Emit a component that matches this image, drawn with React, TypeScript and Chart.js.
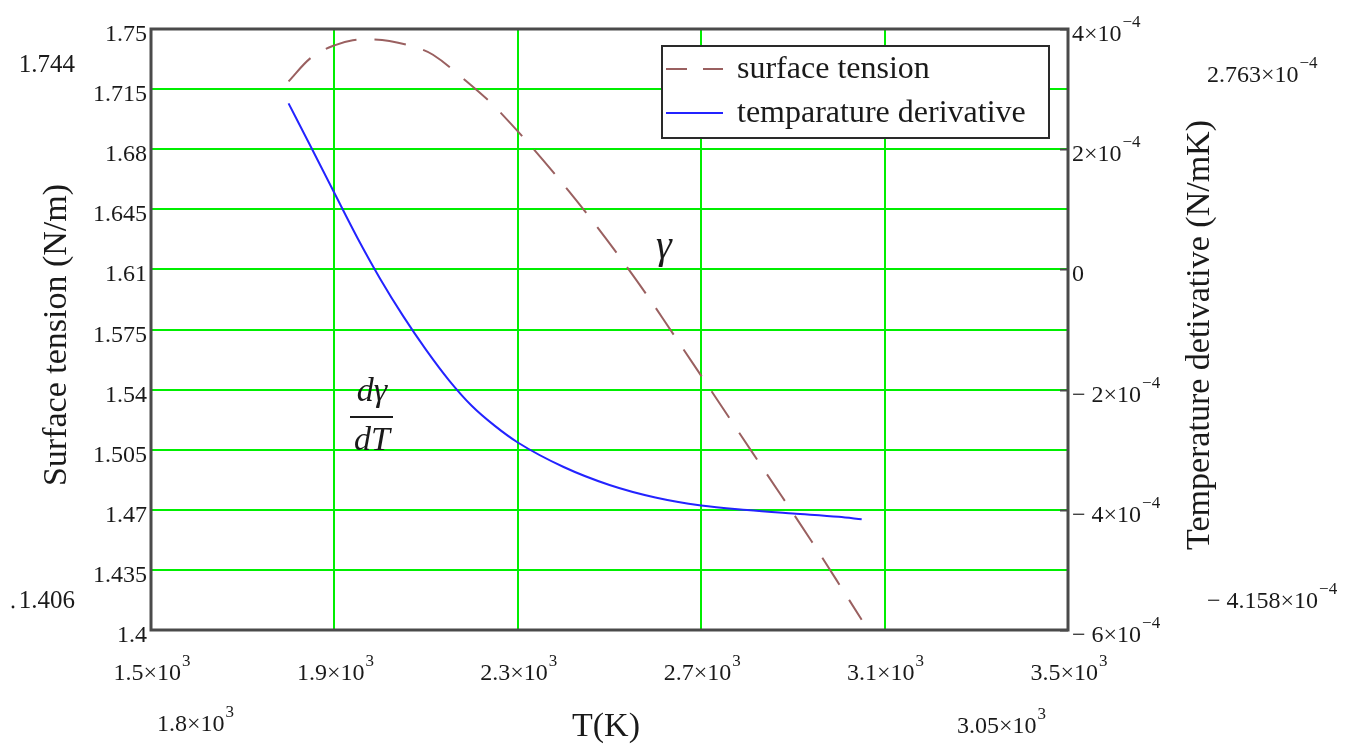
import React, { useEffect, useRef } from "react";
import { Chart, registerables } from "chart.js";

Chart.register(...registerables);

// Axis tick values
const temperatureTicks = [1500, 1900, 2300, 2700, 3100, 3500];
const tensionTicks = [1.4, 1.435, 1.47, 1.505, 1.54, 1.575, 1.61, 1.645, 1.68, 1.715, 1.75];
const derivativeTicks = [-6e-4, -4e-4, -2e-4, 0, 2e-4, 4e-4];

// Range of the computed curves
const T_MIN = 1800;
const T_MAX = 3050;
const GAMMA_MAX = 1.744;
const GAMMA_MIN = 1.406;
const DERIV_MAX = 2.763e-4;
const DERIV_MIN = -4.158e-4;

// Surface tension γ(T), N/m
const gammaTemps = [T_MIN, 1850, 1900, 1940, 1980, 2020, 2075, 2115, 2175, 2260, 2410, 2550, 2680, 2810, 2940, T_MAX];
const gammaValues = [1.7195, 1.7335, 1.7405, 1.7435, GAMMA_MAX, 1.743, 1.7395, 1.735, 1.7225, 1.702, 1.656, 1.607, 1.556, 1.504, 1.452, GAMMA_MIN];

// Temperature derivative dγ/dT, N/(m·K)
const derivTemps = [T_MIN, 1850, 1900, 1950, 2000, 2050, 2100, 2150, 2200, 2250, 2300, 2400, 2500, 2600, 2700, 2800, 2900, 3000, T_MAX];
const derivValues = [
  DERIV_MAX, 2.02e-4, 1.27e-4, 0.527e-4, -0.158e-4, -0.777e-4, -1.338e-4, -1.845e-4, -2.273e-4, -2.604e-4,
  -2.88e-4, -3.288e-4, -3.587e-4, -3.795e-4, -3.928e-4, -4.003e-4, -4.062e-4, -4.117e-4, DERIV_MIN,
];

const SERIF = '"Liberation Serif", "Times New Roman", serif';
const GRID = "rgb(0,238,0)";
const FRAME = "#4a4a4a";
const GAMMA_COLOR = "#9a6060";
const DERIV_COLOR = "rgb(35,35,255)";

const TICK_SIZE = 24;
const SUP_SIZE = 17;

function drawSci(
  ctx: CanvasRenderingContext2D,
  x: number,
  y: number,
  base: string,
  exp: string,
  align: "left" | "right" | "center",
  size = TICK_SIZE
) {
  ctx.font = `${size}px ${SERIF}`;
  const wb = ctx.measureText(base).width;
  ctx.font = `${SUP_SIZE}px ${SERIF}`;
  const we = exp ? ctx.measureText(exp).width + 1 : 0;
  const total = wb + we;
  const x0 = align === "left" ? x : align === "right" ? x - total : x - total / 2;
  ctx.textAlign = "left";
  ctx.textBaseline = "alphabetic";
  ctx.font = `${size}px ${SERIF}`;
  ctx.fillText(base, x0, y);
  if (exp) {
    ctx.font = `${SUP_SIZE}px ${SERIF}`;
    ctx.fillText(exp, x0 + wb + 1, y - 14);
  }
}

function derivLabel(v: number) {
  const k = Math.round(v * 1e4);
  if (k === 0) return { base: "0", exp: "" };
  return { base: `${k < 0 ? "\u2212 " : ""}${Math.abs(k)}\u00d710`, exp: "\u22124" };
}

const overlayPlugin = {
  id: "mathcadOverlay",
  afterDraw(chart: any) {
    const ctx: CanvasRenderingContext2D = chart.ctx;
    const area = chart.chartArea;
    const xs = chart.scales.x;
    const ys = chart.scales.y;
    const yr = chart.scales.y1;
    ctx.save();

    // plot frame
    ctx.strokeStyle = FRAME;
    ctx.lineWidth = 3;
    ctx.strokeRect(area.left, area.top, area.right - area.left, area.bottom - area.top);

    // inner tick marks of the right axis
    ctx.lineWidth = 2;
    for (const v of derivativeTicks) {
      const py = Math.round(yr.getPixelForValue(v)) + 0.5;
      ctx.beginPath();
      ctx.moveTo(area.right - 8, py);
      ctx.lineTo(area.right, py);
      ctx.stroke();
    }

    ctx.fillStyle = "#1a1a1a";

    // left tick labels
    for (const v of tensionTicks) {
      const py = ys.getPixelForValue(v);
      drawSci(ctx, area.left - 4, py + 12, parseFloat(v.toFixed(3)).toString(), "", "right");
    }
    // right tick labels
    for (const v of derivativeTicks) {
      const py = yr.getPixelForValue(v);
      const { base, exp } = derivLabel(v);
      drawSci(ctx, area.right + 4, py + 12, base, exp, "left");
    }
    // bottom tick labels
    for (const v of temperatureTicks) {
      const px = xs.getPixelForValue(v);
      drawSci(ctx, px + 1, area.bottom + 50, `${v / 1000}\u00d710`, "3", "center");
    }

    // data range markers
    drawSci(ctx, 75, 72, GAMMA_MAX.toFixed(3), "", "right", 25);
    drawSci(ctx, 75, 608, GAMMA_MIN.toFixed(3), "", "right", 25);
    ctx.beginPath();
    ctx.arc(13, 607, 1.4, 0, Math.PI * 2);
    ctx.fill();
    drawSci(ctx, 157, 731, `${T_MIN / 1000}\u00d710`, "3", "left");
    drawSci(ctx, 957, 733, `${T_MAX / 1000}\u00d710`, "3", "left");
    drawSci(ctx, 1207, 82, `${(DERIV_MAX * 1e4).toFixed(3)}\u00d710`, "\u22124", "left");
    drawSci(ctx, 1207, 608, `\u2212 ${(Math.abs(DERIV_MIN) * 1e4).toFixed(3)}\u00d710`, "\u22124", "left");

    // axis titles
    ctx.font = `34px ${SERIF}`;
    ctx.textAlign = "center";
    ctx.textBaseline = "middle";
    ctx.save();
    ctx.translate(57, 335);
    ctx.rotate(-Math.PI / 2);
    ctx.fillText("Surface tension (N/m)", 0, 0);
    ctx.restore();
    ctx.save();
    ctx.translate(1200, 335);
    ctx.rotate(-Math.PI / 2);
    ctx.fillText("Temperature detivative (N/mK)", 0, 0);
    ctx.restore();
    ctx.textBaseline = "alphabetic";
    ctx.fillText("T(K)", 606, 736);

    // curve annotations
    ctx.textAlign = "left";
    ctx.font = `italic 40px ${SERIF}`;
    ctx.fillText("\u03b3", 656, 258);
    ctx.font = `italic 34px ${SERIF}`;
    ctx.textAlign = "center";
    ctx.fillText("d\u03b3", 372, 401);
    ctx.fillText("dT", 372, 450);
    ctx.fillRect(350, 416, 43, 2);

    // legend
    const lx = 662, ly = 46, lw = 387, lh = 92;
    ctx.fillStyle = "#ffffff";
    ctx.fillRect(lx, ly, lw, lh);
    ctx.strokeStyle = "#2a2a2a";
    ctx.lineWidth = 2;
    ctx.strokeRect(lx, ly, lw, lh);
    ctx.lineWidth = 2;
    ctx.strokeStyle = GAMMA_COLOR;
    ctx.setLineDash([21, 16]);
    ctx.beginPath();
    ctx.moveTo(666, 69);
    ctx.lineTo(723, 69);
    ctx.stroke();
    ctx.setLineDash([]);
    ctx.strokeStyle = DERIV_COLOR;
    ctx.beginPath();
    ctx.moveTo(666, 113);
    ctx.lineTo(723, 113);
    ctx.stroke();
    ctx.fillStyle = "#1a1a1a";
    ctx.textAlign = "left";
    ctx.font = `32px ${SERIF}`;
    ctx.fillText("surface tension", 737, 78);
    ctx.fillText("temparature derivative", 737, 122);

    ctx.restore();
  },
};

export default function App() {
  const ref = useRef<HTMLCanvasElement>(null);

  useEffect(() => {
    const gammaPoints = gammaTemps.map((t, i) => ({ x: t, y: gammaValues[i] }));
    const derivPoints = derivTemps.map((t, i) => ({ x: t, y: derivValues[i] }));

    const chart = new Chart(ref.current as HTMLCanvasElement, {
      type: "line",
      data: {
        datasets: [
          {
            label: "surface tension",
            data: gammaPoints,
            yAxisID: "y",
            borderColor: GAMMA_COLOR,
            borderWidth: 2,
            borderDash: [32, 18],
            pointRadius: 0,
            tension: 0.35,
            fill: false,
          },
          {
            label: "temparature derivative",
            data: derivPoints,
            yAxisID: "y1",
            borderColor: DERIV_COLOR,
            borderWidth: 2,
            pointRadius: 0,
            cubicInterpolationMode: "monotone",
            fill: false,
          },
        ],
      },
      options: {
        responsive: false,
        animation: false,
        devicePixelRatio: 1,
        layout: { padding: { top: 29, left: 0, right: 0, bottom: 0 } },
        plugins: {
          legend: { display: false },
          tooltip: { enabled: false },
        },
        scales: {
          x: {
            type: "linear",
            min: 1500,
            max: 3500,
            afterBuildTicks: (s: any) => {
              s.ticks = temperatureTicks.map((value) => ({ value }));
            },
            afterFit: (s: any) => {
              s.height = 118;
            },
            ticks: { display: false },
            grid: { color: GRID, lineWidth: 2, drawTicks: false },
            border: { display: false },
          },
          y: {
            type: "linear",
            position: "left",
            min: 1.4,
            max: 1.75,
            afterBuildTicks: (s: any) => {
              s.ticks = tensionTicks.map((value) => ({ value }));
            },
            afterFit: (s: any) => {
              s.width = 151;
            },
            ticks: { display: false },
            grid: { color: GRID, lineWidth: 2, drawTicks: false },
            border: { display: false },
          },
          y1: {
            type: "linear",
            position: "right",
            min: -6e-4,
            max: 4e-4,
            afterBuildTicks: (s: any) => {
              s.ticks = derivativeTicks.map((value) => ({ value }));
            },
            afterFit: (s: any) => {
              s.width = 292;
            },
            ticks: { display: false },
            grid: { display: false, drawTicks: false },
            border: { display: false },
          },
        },
      },
      plugins: [overlayPlugin],
    } as any);

    return () => chart.destroy();
  }, []);

  return (
    <div style={{ position: "fixed", left: 0, top: 0, width: 1360, height: 748, background: "#ffffff" }}>
      <canvas ref={ref} width={1360} height={748} style={{ display: "block", width: 1360, height: 748 }} />
    </div>
  );
}
